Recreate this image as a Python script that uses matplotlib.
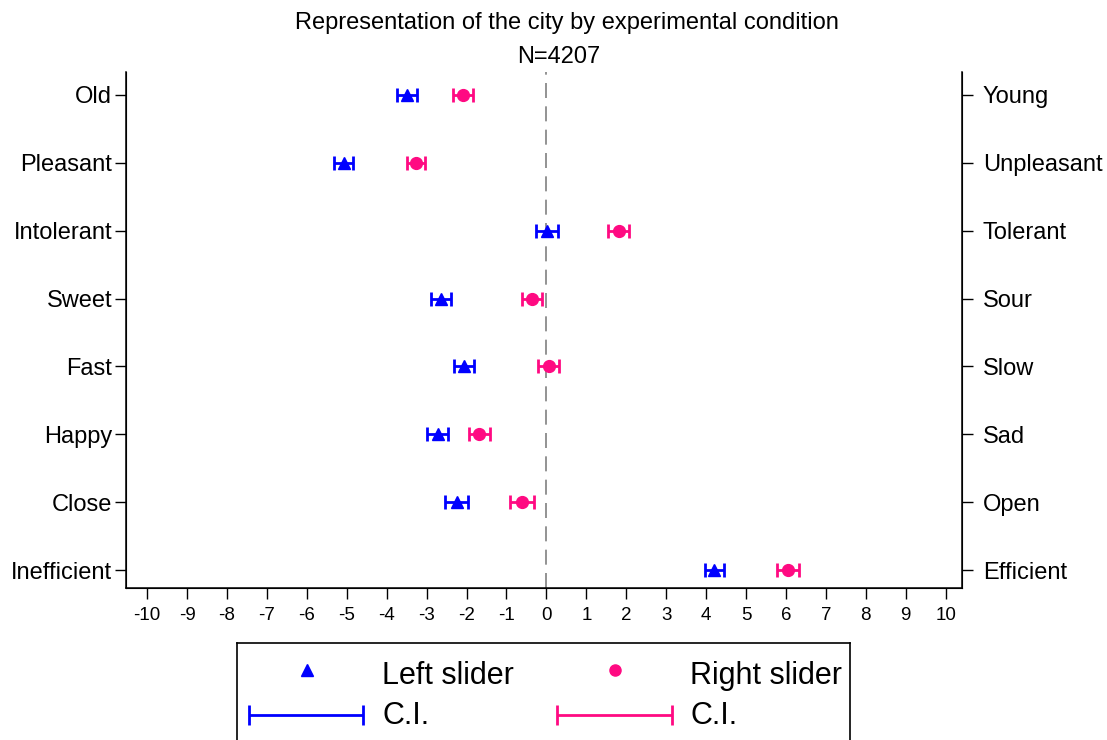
import matplotlib
matplotlib.use("Agg")
import matplotlib.pyplot as plt
import numpy as np

plt.rcParams['font.family'] = ['Liberation Sans', 'DejaVu Sans']

left_labels = ["Old", "Pleasant", "Intolerant", "Sweet", "Fast", "Happy", "Close", "Inefficient"]
right_labels = ["Young", "Unpleasant", "Tolerant", "Sour", "Slow", "Sad", "Open", "Efficient"]

left_mean = [-3.48, -5.08, 0.01, -2.64, -2.06, -2.72, -2.25, 4.21]
left_lo = [-3.73, -5.32, -0.27, -2.89, -2.31, -2.98, -2.53, 3.98]
left_hi = [-3.23, -4.84, 0.29, -2.39, -1.81, -2.46, -1.97, 4.44]

right_mean = [-2.09, -3.27, 1.81, -0.36, 0.06, -1.68, -0.61, 6.05]
right_lo = [-2.35, -3.50, 1.54, -0.61, -0.20, -1.95, -0.90, 5.77]
right_hi = [-1.83, -3.03, 2.08, -0.11, 0.32, -1.41, -0.32, 6.33]

xticks = list(range(-10, 11))

BLUE = "#0000FF"
PINK = "#FF0A82"

W, H = 1107, 740
fig = plt.figure(figsize=(W / 100, H / 100), dpi=100)

ax_l, ax_r, ax_b, ax_t = 126, 962, 588, 72
ax = fig.add_axes([ax_l / W, 1 - ax_b / H, (ax_r - ax_l) / W, (ax_b - ax_t) / H])

n = len(left_labels)
ypos = np.arange(n, 0, -1)

lm, ll, lh = map(np.array, (left_mean, left_lo, left_hi))
rm, rl, rh = map(np.array, (right_mean, right_lo, right_hi))

ax.axvline(0, color="#808080", lw=1.2, dashes=(9, 5), zorder=1)

ax.errorbar(lm, ypos, xerr=[lm - ll, lh - lm], fmt="none", ecolor=BLUE,
            elinewidth=2, capsize=5, capthick=2, zorder=2)
ax.plot(lm, ypos, "^", color=BLUE, ms=9, zorder=3)

ax.errorbar(rm, ypos, xerr=[rm - rl, rh - rm], fmt="none", ecolor=PINK,
            elinewidth=2, capsize=5, capthick=2, zorder=2)
ax.plot(rm, ypos, "o", color=PINK, ms=8.5, zorder=3)

ax.set_xlim(-10.53, 10.41)
ax.set_ylim(1 - 18 / 67.9, n + 23 / 67.9)
ax.set_xticks(xticks)
ax.set_xticklabels([str(t) for t in xticks], fontsize=13.5)
ax.set_yticks(ypos)
ax.set_yticklabels(left_labels, fontsize=17)
ax.tick_params(axis="x", length=8, width=1, pad=6, direction="out")
ax.tick_params(axis="y", length=8, width=1, pad=2, direction="out")
ax.spines["top"].set_visible(False)
for s in ("left", "bottom", "right"):
    ax.spines[s].set_linewidth(1.1)

ax2 = ax.twinx()
ax2.set_ylim(ax.get_ylim())
ax2.set_yticks(ypos)
ax2.set_yticklabels(right_labels, fontsize=17)
ax2.tick_params(axis="y", length=8, width=1, pad=7, direction="out")
ax2.spines["top"].set_visible(False)

fig.text(567 / W, 1 - 23 / H, "Representation of the city by experimental condition",
         ha="center", va="center", fontsize=17)
fig.text(559 / W, 1 - 57 / H, "N=4207", ha="center", va="center", fontsize=17)

# legend panel
lg_l, lg_r, lg_t, lg_b = 237, 850, 643, 760
axl = fig.add_axes([lg_l / W, 1 - lg_b / H, (lg_r - lg_l) / W, (lg_b - lg_t) / H])
axl.set_xlim(lg_l, lg_r)
axl.set_ylim(lg_b, lg_t)
axl.set_xticks([])
axl.set_yticks([])
for s in axl.spines.values():
    s.set_linewidth(1.2)

row1, row2 = 676, 716
axl.plot([307], [row1 - 6], "^", color=BLUE, ms=9)
axl.text(382, row1, "Left slider", fontsize=22, va="center", ha="left")
axl.plot([615], [row1 - 6], "o", color=PINK, ms=8)
axl.text(690, row1, "Right slider", fontsize=22, va="center", ha="left")

axl.errorbar([(249 + 363) / 2], [row2 - 1], xerr=[[(363 - 249) / 2]], fmt="none",
             ecolor=BLUE, elinewidth=2, capsize=7, capthick=2)
axl.text(382, row2, "C.I.", fontsize=22, va="center", ha="left")
axl.errorbar([(557 + 672) / 2], [row2 - 1], xerr=[[(672 - 557) / 2]], fmt="none",
             ecolor=PINK, elinewidth=2, capsize=7, capthick=2)
axl.text(690, row2, "C.I.", fontsize=22, va="center", ha="left")

fig.savefig("out.png", dpi=100)
